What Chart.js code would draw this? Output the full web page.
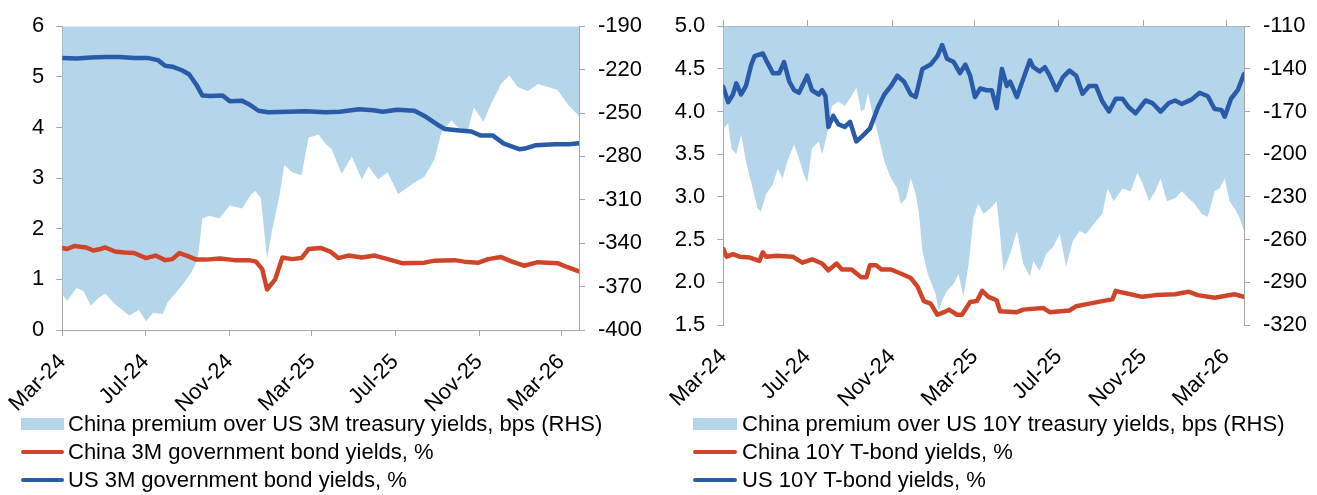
<!DOCTYPE html>
<html>
<head>
<meta charset="utf-8">
<script src="https://cdn.jsdelivr.net/npm/chart.js@4.4.1/dist/chart.umd.min.js"></script>
<style>
  body { margin: 0; background: #fff; width: 1317px; height: 495px; position: relative; overflow: hidden;
         font-family: 'Liberation Sans', Arial, sans-serif; }
  canvas { position: absolute; top: 0; }
  .key-text { position: absolute; font-size: 22px; line-height: 28px; color: #000; white-space: nowrap; }
  .key-sw { position: absolute; }
</style>
</head>
<body>
<canvas id="chart3m" width="655" height="420" style="left:0"></canvas>
<canvas id="chart10y" width="662" height="420" style="left:655px"></canvas>
<script>
// x values are weeks since 1 Mar 2024
var startDate = '2024-03-01';
var lastWeek = 108;
var tickLabels = ['Mar-24', 'Jul-24', 'Nov-24', 'Mar-25', 'Jul-25', 'Nov-25', 'Mar-26'];
var tickDates = ['2024-03-01', '2024-07-01', '2024-11-01', '2025-03-01', '2025-07-01', '2025-11-01', '2026-03-01'];

// 3M yields, % ([week, value])
var us3m = [
  [0, 5.37], [3, 5.36], [6, 5.38], [9, 5.39], [12, 5.39], [15, 5.37], [18, 5.37], [20, 5.33],
  [21.5, 5.22], [23, 5.2], [25, 5.13], [26.5, 5.05], [28, 4.85], [29.3, 4.63], [31, 4.62],
  [33.5, 4.63], [35, 4.52], [37.5, 4.53], [39, 4.46], [41, 4.33], [43, 4.3], [47, 4.31],
  [51, 4.32], [55, 4.3], [58, 4.31], [62, 4.36], [65, 4.34], [67, 4.31], [70, 4.35],
  [73.6, 4.33], [76, 4.21], [78.5, 4.05], [80, 3.97], [83, 3.94], [85.5, 3.92], [87.5, 3.84],
  [90, 3.84], [92.3, 3.68], [95.5, 3.57], [97, 3.59], [99, 3.65], [103, 3.67], [106, 3.67], [108, 3.69]
];
var cn3m = [
  [0, 1.62], [1, 1.6], [2.5, 1.66], [5, 1.63], [6.5, 1.57], [8, 1.6], [9, 1.63], [11, 1.55],
  [13, 1.53], [15, 1.52], [17.5, 1.42], [19.5, 1.47], [21.5, 1.38], [23, 1.4], [24.5, 1.52],
  [26, 1.47], [28, 1.39], [30, 1.39], [33, 1.41], [36, 1.38], [39, 1.38], [40.5, 1.35],
  [41.8, 1.2], [42.8, 0.8], [44.5, 1.0], [46, 1.43], [48, 1.4], [50, 1.42], [51.5, 1.6],
  [54, 1.62], [56, 1.55], [57.7, 1.42], [59.8, 1.47], [62.6, 1.43], [65.3, 1.47], [68, 1.4],
  [71, 1.32], [75.7, 1.33], [77.8, 1.37], [82, 1.38], [84, 1.35], [87, 1.33], [89, 1.4],
  [91.7, 1.44], [94, 1.35], [96.5, 1.27], [99.4, 1.34], [103.5, 1.32], [105.6, 1.24], [108, 1.16]
];
// China minus US 3M, bps
var premium3m = [
  [0, -375], [1, -380], [3, -371], [4.4, -373], [6, -383], [7.5, -378], [9, -375], [11, -382],
  [12.5, -386], [14, -390], [16, -386], [17.5, -394], [19, -388], [21, -389], [22, -381],
  [23.8, -374], [25.5, -367], [27, -360], [28.3, -351], [29.3, -323], [30.7, -321], [32.8, -323],
  [35, -314], [37.6, -316], [39.5, -306], [40.4, -304], [41.5, -309], [42.8, -351], [43.9, -330],
  [45.3, -309], [46.4, -286], [48, -291], [50, -293], [51.5, -267], [53.6, -265], [55, -271],
  [56.3, -275], [58.4, -292], [60.5, -280], [62.6, -296], [64, -287], [66, -296], [68, -291],
  [70.2, -306], [71.5, -303], [73.6, -298], [75.7, -294], [77.8, -282], [79.2, -264], [81.3, -255],
  [82.7, -260], [84.8, -262], [86, -246], [88, -256], [89.6, -244], [91.7, -230], [93.4, -224],
  [95.2, -232], [97.3, -235], [99.4, -230], [101.5, -232], [103.5, -234], [105.6, -244], [108, -252]
];

// 10Y yields, %
var us10y = [
  [0, 4.29], [1, 4.11], [2, 4.2], [2.7, 4.33], [3.7, 4.2], [4.7, 4.3], [5.8, 4.55], [6.5, 4.65],
  [8.2, 4.68], [8.9, 4.6], [10.3, 4.45], [11.6, 4.45], [12.6, 4.58], [13.7, 4.35], [14.7, 4.25],
  [15.7, 4.22], [17.4, 4.42], [18.4, 4.25], [19.8, 4.2], [20.5, 4.25], [21.2, 4.18], [21.8, 3.82],
  [22.8, 3.95], [23.9, 3.85], [25.2, 3.82], [26.3, 3.88], [27.6, 3.65], [28.6, 3.7], [30.4, 3.8],
  [32.1, 4.05], [33.4, 4.2], [34.8, 4.3], [36.1, 4.42], [37.5, 4.35], [38.9, 4.2], [39.9, 4.17],
  [41.3, 4.5], [43, 4.55], [44.4, 4.65], [45.4, 4.78], [46.4, 4.62], [47.8, 4.58], [49.1, 4.45],
  [50.2, 4.55], [51.2, 4.42], [52.2, 4.17], [53.3, 4.27], [54.6, 4.25], [55.7, 4.25], [56.7, 4.04],
  [57.8, 4.5], [58.8, 4.3], [59.5, 4.35], [60.9, 4.17], [62.2, 4.38], [63.6, 4.6], [64.3, 4.52],
  [65.6, 4.47], [66.7, 4.52], [67.7, 4.42], [69.1, 4.25], [70.4, 4.4], [71.8, 4.48], [73.2, 4.42],
  [74.5, 4.21], [75.9, 4.3], [77.3, 4.3], [78.6, 4.12], [80, 4.0], [81.4, 4.15], [82.8, 4.15],
  [84.1, 4.05], [85.5, 3.98], [87.6, 4.13], [89, 4.1], [90.7, 4.0], [92.4, 4.1], [93.7, 4.13],
  [95.1, 4.09], [97.1, 4.14], [98.8, 4.22], [100.5, 4.18], [101.9, 4.03], [103.3, 4.02], [104, 3.94],
  [105.3, 4.15], [106.7, 4.25], [108, 4.44]
];
var cn10y = [
  [0, 2.39], [0.7, 2.3], [2, 2.33], [3.4, 2.3], [5.5, 2.29], [7.5, 2.25], [8.2, 2.35], [8.9, 2.3],
  [11, 2.31], [14.4, 2.3], [16.4, 2.23], [18.4, 2.27], [20.5, 2.22], [21.8, 2.14], [23.5, 2.22],
  [24.6, 2.15], [26.6, 2.15], [28.6, 2.06], [29.7, 2.06], [30.4, 2.2], [31.7, 2.2], [32.8, 2.15],
  [34.8, 2.15], [36.9, 2.1], [38.9, 2.05], [40.3, 1.95], [41.6, 1.78], [43, 1.75], [44.4, 1.62],
  [45.8, 1.65], [46.8, 1.68], [48.5, 1.62], [49.5, 1.62], [51.2, 1.77], [52.6, 1.78], [53.7, 1.9],
  [55, 1.83], [56.7, 1.79], [57.4, 1.66], [60.9, 1.65], [62.2, 1.68], [66.3, 1.7], [67.7, 1.65],
  [71.8, 1.67], [73.2, 1.72], [75.9, 1.75], [78.6, 1.78], [80.7, 1.8], [81.4, 1.9], [82.8, 1.88],
  [86.9, 1.83], [89.7, 1.85], [93.7, 1.86], [96.5, 1.89], [98.4, 1.85], [101.9, 1.82], [106, 1.86],
  [108, 1.83]
];
// China minus US 10Y, bps
var premium10y = [
  [0, -182], [1, -178], [1.7, -196], [2.7, -200], [3.7, -186], [4.7, -205], [6.1, -224], [7.1, -238],
  [7.8, -240], [8.9, -228], [10.3, -221], [11.3, -210], [12.3, -217], [13.3, -205], [14.7, -193],
  [15.7, -203], [16.7, -214], [17.4, -220], [18.4, -196], [19.8, -191], [20.5, -200], [21.8, -182],
  [22.5, -166], [23.9, -163], [25.2, -166], [26.6, -159], [27.6, -153], [28.6, -170], [29.3, -168],
  [30, -157], [31, -172], [32.1, -186], [33.4, -205], [34.8, -217], [36.1, -224], [36.8, -235],
  [37.9, -231], [38.9, -217], [39.9, -228], [40.6, -242], [41.3, -268], [42.4, -284], [43, -289],
  [44, -298], [44.7, -310], [45.4, -303], [46.4, -296], [47.8, -291], [48.8, -284], [49.8, -300],
  [50.9, -277], [51.9, -244], [52.9, -235], [54, -242], [55.4, -238], [56.7, -233], [57.4, -256],
  [58.1, -282], [59.5, -270], [60.9, -254], [62.2, -277], [63.6, -286], [64.3, -275], [65.6, -282],
  [67, -270], [68.4, -265], [69.8, -256], [71.1, -279], [72.5, -261], [73.9, -254], [75.2, -256],
  [77.3, -247], [78.6, -242], [79.7, -224], [81, -233], [82.8, -224], [84.5, -226], [85.9, -213],
  [86.9, -220], [88.3, -233], [89.6, -226], [90.7, -217], [92, -233], [93.7, -231], [95.1, -226],
  [96.5, -231], [97.8, -235], [99.2, -242], [100.5, -244], [101.9, -226], [102.9, -224], [104, -217],
  [105, -233], [106, -238], [107, -244], [108, -254]
];

var GRAY = '#a6a6a6';
var AREA = '#b4d5ea';
var RED = '#d0452a';
var BLUE = '#2a5ba8';

var WEEK = 7 * 864e5;
var tickWeeks = tickDates.map(function (d) { return (Date.parse(d) - Date.parse(startDate)) / WEEK; });

Chart.defaults.font.family = "'Liberation Sans', Arial, sans-serif";
Chart.defaults.font.size = 22;
Chart.defaults.color = '#000';

function pts(pairs) {
  return pairs.map(function (p) { return { x: p[0], y: p[1] }; });
}

function monthTicks(scale) {
  scale.ticks = tickWeeks.map(function (v) { return { value: v }; });
}

function yAxis(side, min, max, step, width, pad, fmt) {
  return {
    position: side, min: min, max: max,
    ticks: { stepSize: step, padding: pad, callback: fmt },
    grid: { drawOnChartArea: false, color: GRAY, tickLength: 6 },
    border: { color: GRAY },
    afterFit: function (s) { s.width = width; }
  };
}

function datasets(premium, cn, us, labels) {
  return [
    { label: labels[0], data: pts(premium), yAxisID: 'y2', fill: 'end', backgroundColor: AREA,
      borderColor: 'transparent', borderWidth: 0, pointRadius: 0, order: 2 },
    { label: labels[1], data: pts(cn), yAxisID: 'y', borderColor: RED, borderWidth: 4.5,
      pointRadius: 0, borderJoinStyle: 'round', borderCapStyle: 'round', order: 1 },
    { label: labels[2], data: pts(us), yAxisID: 'y', borderColor: BLUE, borderWidth: 4.5,
      pointRadius: 0, borderJoinStyle: 'round', borderCapStyle: 'round', order: 0 }
  ];
}

var labels3m = ['China premium over US 3M treasury yields, bps (RHS)',
  'China 3M government bond yields, %', 'US 3M government bond yields, %'];
var labels10y = ['China premium over US 10Y treasury yields, bps (RHS)',
  'China 10Y T-bond yields, %', 'US 10Y T-bond yields, %'];

var common = {
  responsive: false,
  animation: false,
  devicePixelRatio: 1,
  plugins: { legend: { display: false }, tooltip: { enabled: false } },
  elements: { line: { tension: 0 } }
};

// left panel: 3M
new Chart('chart3m', {
  type: 'line',
  data: { datasets: datasets(premium3m, cn3m, us3m, labels3m) },
  options: Object.assign({}, common, {
    layout: { padding: { top: 21, left: 0, right: 0, bottom: 0 } },
    scales: {
      x: {
        type: 'linear', position: 'bottom', min: 0, max: lastWeek,
        afterBuildTicks: monthTicks,
        ticks: { autoSkip: false, minRotation: 45, maxRotation: 45, padding: 13,
                 callback: function (v, i) { return tickLabels[i]; } },
        grid: { drawOnChartArea: false, color: GRAY, tickLength: 6 },
        border: { color: GRAY },
        afterFit: function (s) { s.height = 90; }
      },
      y: yAxis('left', 0, 6, 1, 59, 12, function (v) { return String(v); }),
      y2: yAxis('right', -400, -190, 30, 76, 13, function (v) { return String(v); })
    }
  })
});

// right panel: 10Y
new Chart('chart10y', {
  type: 'line',
  data: { datasets: datasets(premium10y, cn10y, us10y, labels10y) },
  options: Object.assign({}, common, {
    layout: { padding: { top: 17, left: 0, right: 0, bottom: 0 } },
    scales: {
      x: {
        type: 'linear', position: 'bottom', min: 0, max: lastWeek,
        afterBuildTicks: monthTicks,
        ticks: { autoSkip: false, minRotation: 45, maxRotation: 45, padding: 19,
                 callback: function (v, i) { return tickLabels[i]; } },
        grid: { display: false, drawTicks: false },
        border: { display: false },
        afterFit: function (s) { s.height = 95; }
      },
      xTop: {
        type: 'linear', position: 'top', min: 0, max: lastWeek,
        afterBuildTicks: monthTicks,
        ticks: { display: false },
        grid: { drawOnChartArea: false, color: GRAY, tickLength: 6 },
        border: { color: GRAY },
        afterFit: function (s) { s.height = 6; }
      },
      y: yAxis('left', 1.5, 5, 0.5, 62, 12, function (v) { return v.toFixed(1); }),
      y2: yAxis('right', -320, -110, 30, 73, 13, function (v) { return String(v); })
    }
  })
});

// legends under each panel
function drawKey(swLeft, swWidth, textLeft, labels) {
  var kinds = [AREA, RED, BLUE];
  labels.forEach(function (text, i) {
    var mid = 424 + i * 28;
    var sw = document.createElement('div');
    sw.className = 'key-sw';
    sw.style.left = swLeft + 'px';
    sw.style.width = swWidth + 'px';
    sw.style.background = kinds[i];
    if (i === 0) {
      sw.style.top = (mid - 6) + 'px';
      sw.style.height = '12px';
    } else {
      sw.style.top = (mid - 2) + 'px';
      sw.style.height = '4px';
      sw.style.borderRadius = '2px';
    }
    document.body.appendChild(sw);
    var t = document.createElement('div');
    t.className = 'key-text';
    t.style.left = textLeft + 'px';
    t.style.top = (mid - 14) + 'px';
    t.textContent = text;
    document.body.appendChild(t);
  });
}
drawKey(21, 43, 68, labels3m);
drawKey(693, 44, 742, labels10y);
</script>
</body>
</html>
